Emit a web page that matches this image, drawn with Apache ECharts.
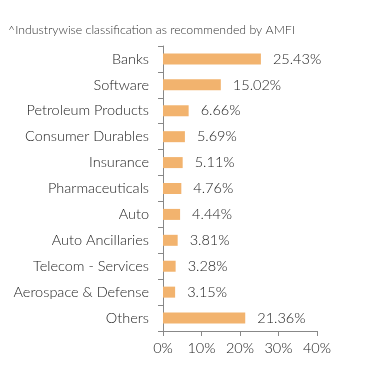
<!DOCTYPE html>
<html><head><meta charset="utf-8">
<script src="https://cdn.jsdelivr.net/npm/echarts@6/dist/echarts.min.js"></script>
<style>html,body{margin:0;padding:0;background:#fff}#c{width:391px;height:383px}</style>
</head><body><div id="c"></div>
<script>
var categories = ["Banks","Software","Petroleum Products","Consumer Durables","Insurance","Pharmaceuticals","Auto","Auto Ancillaries","Telecom - Services","Aerospace & Defense","Others"];
var values = [25.43,15.02,6.66,5.69,5.11,4.76,4.44,3.81,3.28,3.15,21.36];
var xTicks = [0,10,20,30,40];
var title = "^Industrywise classification as recommended by AMFI";

var chart = echarts.init(document.getElementById('c'));
chart.setOption({
  animation:false,
  title:{text:title,left:3,top:19,textStyle:{fontFamily:'Lato',fontSize:12.3,fontWeight:300,color:'#333'}},
  grid:{left:163,right:74,top:46,bottom:52,containLabel:false},
  xAxis:{type:'value',min:xTicks[0],max:xTicks[xTicks.length-1],interval:10,
    axisLine:{show:true,lineStyle:{color:'#888'}},
    axisTick:{show:true,length:5,lineStyle:{color:'#888'}},
    splitLine:{show:false},
    axisLabel:{formatter:'{value}%',fontFamily:'Lato',fontSize:14.5,fontWeight:300,color:'#222',margin:10}},
  yAxis:{type:'category',data:categories,inverse:true,
    axisLine:{show:true,lineStyle:{color:'#888'}},
    axisTick:{show:true,length:5,lineStyle:{color:'#888'}},
    axisLabel:{fontFamily:'Lato',fontSize:14.5,fontWeight:300,color:'#222',margin:14}},
  series:[{type:'bar',data:values,barWidth:11,itemStyle:{color:'#F2B36E'},
    label:{show:true,position:'right',distance:12,formatter:function(p){return p.value.toFixed(2)+'%';},fontFamily:'Lato',fontSize:14.5,fontWeight:300,color:'#222'}}]
});
</script></body></html>
